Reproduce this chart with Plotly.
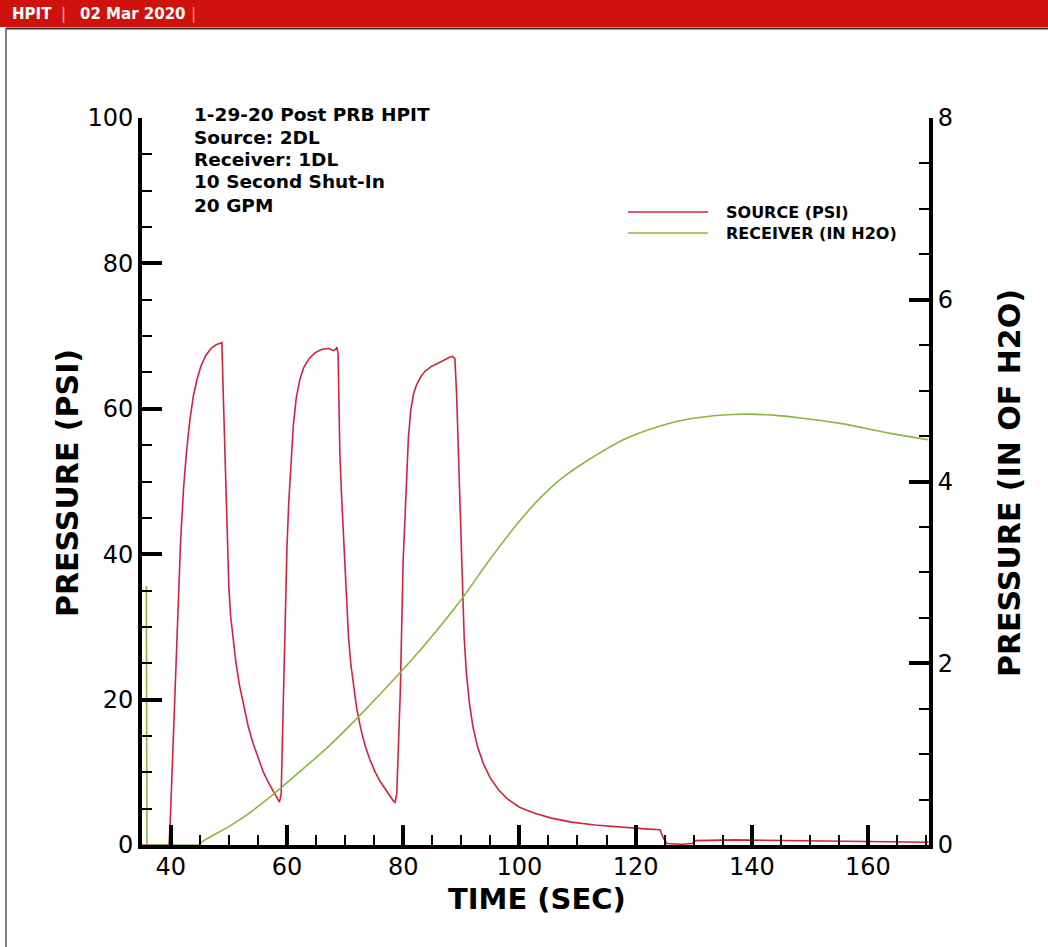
import plotly.graph_objects as go

# ---------------- data ----------------
src_t = [35.1, 39.7, 39.9, 40.3, 40.8, 41.3, 41.7, 42.2, 42.7, 43.3, 43.9, 44.5, 45.2, 46.0, 46.9,
         47.8, 48.5, 48.8,
         49.0, 49.3, 49.6, 49.8, 50.0, 50.3, 50.7, 51.2, 51.8, 52.5, 53.3, 54.2, 55.1, 55.9, 56.8,
         57.6, 58.2, 58.7,
         59.0, 59.2, 59.4, 59.7, 60.0, 60.3, 60.7, 61.1, 61.6, 62.2, 62.9, 63.8, 64.8, 66.0, 67.2,
         68.0, 68.4, 68.6, 68.8,
         69.1, 69.4, 69.7, 69.9, 70.2, 70.6, 71.0, 71.5, 72.0, 72.7, 73.5, 74.3, 75.2, 76.0, 76.8,
         77.6, 78.2, 78.6,
         78.9, 79.2, 79.5, 80.0, 80.3, 80.6, 80.9, 81.3, 81.8, 82.3, 82.6, 83.1, 83.8, 84.8, 85.8,
         87.0, 88.0, 88.5, 88.9,
         89.2, 89.5, 89.8, 90.0, 90.2, 90.5, 90.9, 91.4, 92.0, 92.8, 93.8, 95.0, 96.4, 98.0, 100.0,
         102.5, 105.5, 109.0, 113.0, 117.0, 121.0, 124.2,
         124.8, 125.4, 128.0, 129.7, 130.3, 136.9, 148.3, 159.8, 170.4]
src_psi = [0.0, 0.0, 3.0, 12.0, 24.0, 35.0, 42.0, 49.0, 54.0, 58.5, 61.8, 64.0, 65.9, 67.3, 68.3,
           68.8, 69.0, 69.1,
           63.0, 54.0, 45.0, 39.5, 35.5, 31.5, 28.3, 25.2, 22.1, 19.2, 16.4, 13.9, 11.8, 10.1, 8.6,
           7.4, 6.5, 5.9,
           7.0, 14.0, 21.0, 34.6, 41.0, 47.0, 53.0, 57.8, 61.5, 64.0, 65.7, 66.9, 67.7, 68.2, 68.3,
           68.0, 68.2, 68.5, 67.5,
           54.0, 48.0, 43.0, 39.2, 33.5, 28.5, 24.8, 21.5, 18.8, 16.0, 13.5, 11.7, 10.0, 8.8, 7.8,
           6.9, 6.2, 5.8,
           7.1, 14.0, 21.0, 39.2, 45.5, 51.5, 56.0, 59.8, 62.1, 63.3, 63.7, 64.5, 65.2, 65.8, 66.2,
           66.7, 67.1, 67.2, 66.9,
           62.0, 54.0, 44.7, 39.2, 34.0, 28.5, 23.5, 19.5, 16.3, 13.5, 11.2, 9.2, 7.6, 6.3, 5.2,
           4.4, 3.7, 3.15, 2.75, 2.45, 2.25, 2.1,
           0.9, 0.2, 0.1, 0.2, 0.6, 0.7, 0.6, 0.45, 0.37]

rcv_spike_t = [35.8, 35.9, 45.0]
rcv_spike = [2.85, 0.0, 0.0]
rcv_t = [45.0, 45.3, 50.2, 53.7, 57.1, 61.7, 67.4, 72.0, 79.8, 84.6, 90.1, 95.0, 100.1, 103.6,
         107.6, 112.2, 117.9, 123.7, 129.4, 138.0, 143.7, 149.5, 155.2, 163.8, 170.4]
rcv_inh2o = [0.0, 0.03, 0.21, 0.36, 0.53, 0.78, 1.10, 1.39, 1.92, 2.27, 2.71, 3.15, 3.57, 3.82,
             4.05, 4.25, 4.46, 4.60, 4.69, 4.74, 4.73, 4.69, 4.64, 4.53, 4.46]

x_ticks = [40, 60, 80, 100, 120, 140, 160]
y_ticks = [0, 20, 40, 60, 80, 100]
y2_ticks = [0, 2, 4, 6, 8]

note_lines = ["1-29-20 Post PRB HPIT", "Source: 2DL", "Receiver: 1DL", "10 Second Shut-In", "20 GPM"]
legend_names = ["SOURCE (PSI)", "RECEIVER (IN H2O)"]
x_title = "TIME (SEC)"
y_title = "PRESSURE (PSI)"
y2_title = "PRESSURE (IN OF H2O)"

RED = "#D4213F"
GREEN = "#8CB63C"
FONT = "DejaVu Sans"

# ---------------- layout geometry (pixels) ----------------
W, H = 1048, 947
L, R, T, B = 142, 119, 118, 102
PW = W - L - R
PH = H - T - B


def px(X):
    return (X - L) / PW


def py(Y):
    return (H - B - Y) / PH


fig = go.Figure()
fig.add_trace(go.Scatter(x=src_t, y=src_psi, mode="lines", line=dict(color=RED, width=1.6),
                         showlegend=False))
fig.add_trace(go.Scatter(x=rcv_spike_t, y=rcv_spike, mode="lines", line=dict(color=GREEN, width=1.6),
                         yaxis="y2", showlegend=False))
fig.add_trace(go.Scatter(x=rcv_t, y=rcv_inh2o, mode="lines",
                         line=dict(color=GREEN, width=1.6, shape="spline", smoothing=1.0),
                         yaxis="y2", showlegend=False))

axis_common = dict(
    showline=True, linewidth=4, linecolor="black", showgrid=False, zeroline=False,
    ticks="inside", ticklen=20, tickwidth=4, tickcolor="black",
    tickfont=dict(family=FONT, size=24, color="black"),
)

fig.update_layout(
    width=W, height=H,
    margin=dict(l=L, r=R, t=T, b=B, autoexpand=False),
    paper_bgcolor="white", plot_bgcolor="white",
    xaxis=dict(range=[35.05, 170.5], tickvals=x_ticks, automargin=False, ticklabelstandoff=-3,
               minor=dict(dtick=5, tick0=0, ticks="inside", ticklen=10, tickwidth=1.5, tickcolor="black"),
               **axis_common),
    yaxis=dict(range=[0, 100], tickvals=y_ticks, automargin=False,
               minor=dict(dtick=5, tick0=0, ticks="inside", ticklen=10, tickwidth=1.5, tickcolor="black"),
               **axis_common),
    yaxis2=dict(range=[0, 8], tickvals=y2_ticks, overlaying="y", side="right", automargin=False,
                minor=dict(dtick=0.5, tick0=0, ticks="inside", ticklen=10, tickwidth=1.5, tickcolor="black"),
                **axis_common),
)

shapes = []
annotations = []

# axis titles
title_font = dict(family=FONT, size=30, color="black")
annotations.append(dict(text="<b>%s</b>" % x_title, xref="paper", yref="paper", x=px(537), y=py(899),
                        xanchor="center", yanchor="middle", showarrow=False,
                        font=dict(family=FONT, size=29, color="black")))
annotations.append(dict(text="<b>%s</b>" % y_title, xref="paper", yref="paper", x=px(68), y=py(483),
                        xanchor="center", yanchor="middle", showarrow=False, textangle=-90, font=title_font))
annotations.append(dict(text="<b>%s</b>" % y2_title, xref="paper", yref="paper", x=px(1010), y=py(483),
                        xanchor="center", yanchor="middle", showarrow=False, textangle=-90, font=title_font))

# header bar and page frame
shapes.append(dict(type="rect", xref="paper", yref="paper", x0=px(0), x1=px(W), y0=py(0), y1=py(27),
                   fillcolor="#D0120F", line=dict(width=0), layer="above"))
shapes.append(dict(type="line", xref="paper", yref="paper", x0=px(6), x1=px(W), y0=py(28.5), y1=py(28.5),
                   line=dict(color="#333333", width=2), layer="above"))
shapes.append(dict(type="line", xref="paper", yref="paper", x0=px(6), x1=px(6), y0=py(28), y1=py(H),
                   line=dict(color="#555555", width=1.5), layer="above"))

annotations.append(dict(text="<b>HPIT</b>", xref="paper", yref="paper", x=px(10), y=py(14),
                        xanchor="left", yanchor="middle", showarrow=False,
                        font=dict(family=FONT, size=15, color="white")))
annotations.append(dict(text="|", xref="paper", yref="paper", x=px(63), y=py(14),
                        xanchor="center", yanchor="middle", showarrow=False,
                        font=dict(family=FONT, size=15, color="#F2B8B0")))
annotations.append(dict(text="<b>02 Mar 2020</b>", xref="paper", yref="paper", x=px(78), y=py(14),
                        xanchor="left", yanchor="middle", showarrow=False,
                        font=dict(family=FONT, size=15, color="white")))
annotations.append(dict(text="|", xref="paper", yref="paper", x=px(193), y=py(14),
                        xanchor="center", yanchor="middle", showarrow=False,
                        font=dict(family=FONT, size=15, color="#F5A050")))

# notes
note_y = [115, 137, 160, 182, 205]
for txt, yy in zip(note_lines, note_y):
    annotations.append(dict(text="<b>%s</b>" % txt, xref="paper", yref="paper", x=px(192), y=py(yy),
                            xanchor="left", yanchor="middle", showarrow=False,
                            font=dict(family=FONT, size=18.5, color="black")))

# legend
leg_y = [212, 233]
leg_col = [RED, GREEN]
for name, yy, col in zip(legend_names, leg_y, leg_col):
    shapes.append(dict(type="line", xref="paper", yref="paper", x0=px(628), x1=px(708), y0=py(yy), y1=py(yy),
                       line=dict(color=col, width=1.6)))
    annotations.append(dict(text="<b>%s</b>" % name, xref="paper", yref="paper", x=px(724), y=py(yy),
                            xanchor="left", yanchor="middle", showarrow=False,
                            font=dict(family=FONT, size=16, color="black")))

fig.update_layout(shapes=shapes, annotations=annotations)
fig.write_html("out.html")
